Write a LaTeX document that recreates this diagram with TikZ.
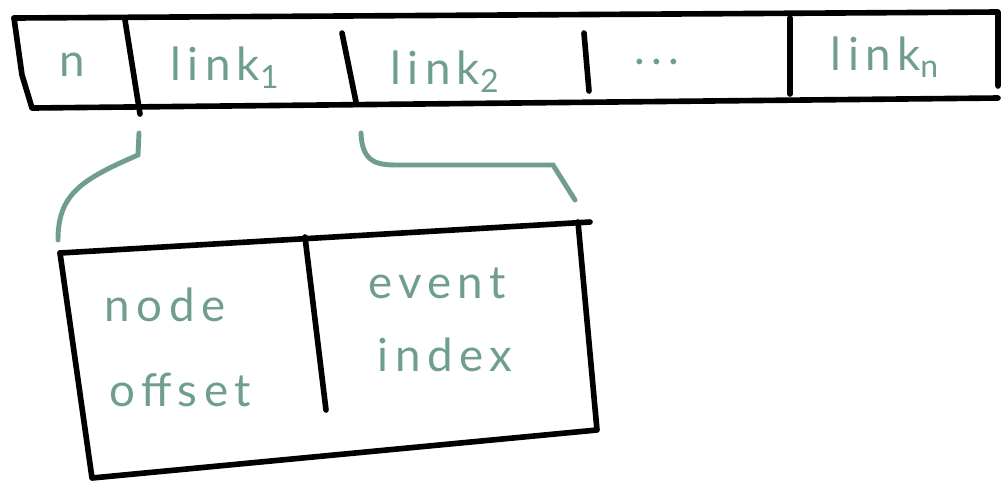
\documentclass[tikz,border=0pt]{standalone}
\usepackage{fontspec}
\setmainfont{Lato}
\definecolor{sage}{RGB}{111,158,143}
\tikzset{
  ink/.style={line width=3.2pt, line cap=round, line join=round},
  brace/.style={draw=sage, line width=2.8pt, line cap=round},
  label/.style={text=sage, font=\fontsize{26}{30}\selectfont\addfontfeature{LetterSpace=14}}
}
\begin{document}
\begin{tikzpicture}[x=0.02cm, y=-0.02cm]
    \useasboundingbox (0,0) rectangle (1001,485);
    % the array
    \draw[ink] (14,18) -- (22,75) -- (32,108) -- (998,98);
    \draw[ink] (14,18) -- (998,12) -- (998,86);
    \draw[ink] (125,20) -- (140,114);
    \draw[ink] (342,33) -- (356,102);
    \draw[ink] (584,33) -- (589,91);
    \draw[ink] (790,18) -- (790,94);
    \node[label] (cnt) at (72,65) {n};
    \node[label] (link1) at (225,68) {link\textsubscript{1}};
    \node[label] (link2) at (445,72) {link\textsubscript{2}};
    \node[label] (dots) at (657,62) {...};
    \node[label] (linkn) at (885,57) {link\textsubscript{n}};
    % one link
    \draw[ink] (60,253) -- (590,222);
    \draw[ink] (60,253) -- (92,478) -- (597,430) -- (578,222);
    \draw[ink] (305,237) -- (326,410);
    \node[label] (node) at (165,305) {node};
    \node[label] (offset) at (180,390) {offset};
    \node[label] (event) at (437,283) {event};
    \node[label] (index) at (445,355) {index};
    % braces
    \coordinate (a1) at (139,133);
    \coordinate (a2) at (58,240);
    \coordinate (b1) at (361,133);
    \coordinate (b2) at (575,200);
    \draw[brace] (a1) -- (138,155) .. controls (80,180) and (58,195) .. (a2);
    \draw[brace] (b1) .. controls (362,165) and (380,165) .. (400,165) -- (553,165) -- (b2);
\end{tikzpicture}
\end{document}
